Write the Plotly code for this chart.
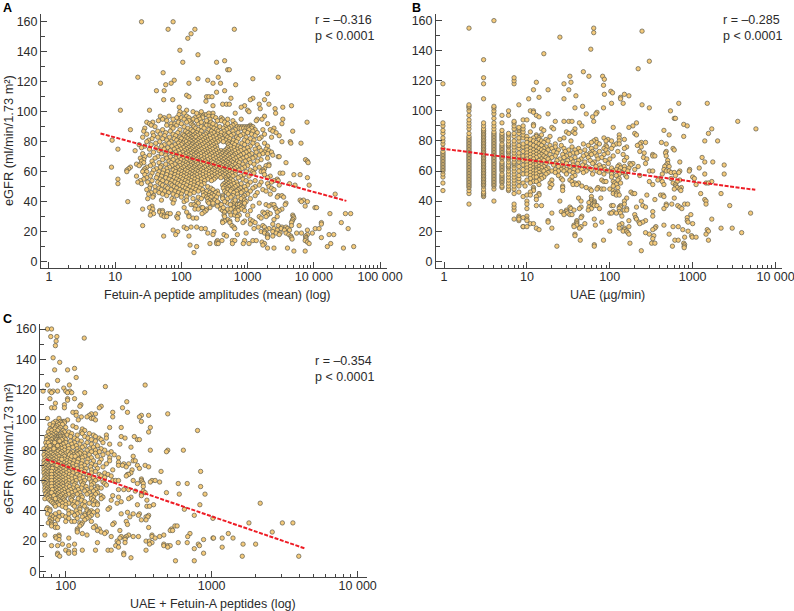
import plotly.graph_objects as go

# ---------- Panel A: eGFR level -> Fetuin-A peptide amplitudes ----------
a_upper = {160:[25,75],155:[63,160,630],152:[140],149:[125],141:[95],138:[178],134:[450],133:[105,340],128:[500,530],126:[53],
123:[22,360,2900],122:[178,1200],121:[78,250],119:[6,70,130,300,390],118:[58,660],114:[42,55,450],113:[340],112:[2000],111:[120],
110:[130,240,260,290],109:[560,1200],108:[54,74,1100,1800],107:[235],105:[420,480,530,1500,2100],104:[300,900,4600],103:[93,800,3400],
102:[1550,2600],101:[12,33,120,1000],100:[95,1050],99:[300,650,2650],98:[92,190,220,240],97:[48,65,180,210,1800],96:[55,160,400],
95:[52,92,150,420,1400,1650,3400],94:[60,400,600,1350],93:[30,37,140,7900],92:[33,70,80,140,180,230,250,650,2000,3300]}
a_core = {91:[35,60,85,150,240,270,330,470,600,1100],
90:[40,70,110,155,200,290,380,560,700,760,830,900,980,1050,1130,1200],
89:[28,75,125,165,220,310,430,520,740,800,870,950,1020,1150,2500],
88:[17,52,95,140,180,260,340,480,650,1050,1300,1700,2200],
87:[27,44,68,115,150,200,285,360,440,600,900,1200,2400,4800],
86:[37,58,88,125,170,240,310,400,520,720,1000,1400,2700],
85:[30,48,75,105,135,160,190,230,280,350,450,610,850,1150,1800],
84:[38,56,82,110,128,150,175,215,265,330,390,470,560,780,1300,3000],
83:[26,44,66,95,118,140,165,200,240,300,370,500,680,950,1600,2300],
82:[36,52,78,100,125,145,185,225,275,345,420,540,720,1100,1500],
81:[9,32,60,85,112,135,155,175,210,250,310,380,470,610,890,1250],
80:[30,47,70,95,118,142,165,195,235,290,355,430,520,680,1000,3300,4400],
79:[41,65,90,105,130,150,180,220,270,330,500,590,820,1200,1800,4500,6400],
78:[23,35,55,80,100,122,145,170,205,250,305,520,640,900,1400],
77:[28,50,72,92,115,138,160,190,235,285,340,550,720,1100,2000],
76:[25,42,62,85,108,128,150,178,215,265,320,500,620,780,1000,1500],
75:[11,33,55,78,98,120,142,168,200,245,295,350,480,560,690,880,1300,1900],
74:[20,46,68,90,112,135,158,185,225,270,330,400,450,520,640,790,1050,1600,2100],
73:[38,60,82,105,125,148,172,210,250,305,370,430,490,580,720,950,1350,1800,2300],
72:[26,50,74,95,118,140,165,195,235,285,345,410,470,550,660,860,1150,1700,2000],
71:[33,58,85,108,130,155,180,220,265,320,385,450,520,620,780,1050,1500,2400],
70:[28,44,68,92,115,138,165,200,245,300,360,425,495,590,720,960,1300,2900,3000],
69:[24,40,60,82,105,128,150,178,218,270,330,395,460,540,660,850,1200,2000],
68:[27,52,75,98,120,145,170,205,250,305,370,435,510,610,770,1050,1600,7500],
67:[25,36,65,88,110,135,160,190,230,285,345,410,480,570,700,920,1400,8000],
66:[27,46,70,95,118,142,168,200,245,300,365,430,505,600,750,1100,3800,8200],
65:[21,24,38,58,80,105,125,150,178,215,265,325,390,460,540,650,850,1250,2100],
64:[23,34,50,72,95,115,138,162,195,240,295,355,420,490,580,720,1000,1900,2100],
63:[8.8,17,30,48,66,88,108,130,155,185,225,275,335,400,470,550,680,900,1500],
62:[16,28,42,60,80,100,122,145,172,210,255,310,375,445,520,630,820,1300,1800],
61:[15,27,38,54,75,95,115,138,165,198,240,295,355,420,495,590,740,1100,1700],
60:[15,26,30,46,62,82,102,125,148,178,215,265,320,385,455,540,660,950,1200,1600,1750],
59:[36,52,70,90,110,135,160,190,235,285,345,410,480,580,1250,3100,3400],
58:[28,44,60,80,100,120,145,172,210,260,315,380,450,530,650,880,1800,5000,6200],
57:[21,34,50,68,88,108,130,155,190,235,290,350,420,500,600,780,1050,2200],
56:[30,42,58,78,98,120,145,175,215,265,325,395,470,720,2000,8000],
55:[11,27,48,65,85,105,130,160,200,250,310,480,560,850,2800],
54:[24,36,52,72,92,115,140,175,225,285,500,600,950,1300,2500,2900],
53:[22,31,44,60,80,100,125,155,195,470,540,680,1100,1600,2300],
52:[11,25,48,68,88,110,140,180,220,440,510,620,800,2000,4300],
51:[34,52,72,95,120,155,200,420,480,560,700,1000,1500,3000,5200,8500],
50:[40,58,78,105,135,170,250,450,520,650,900,1300,2100],
49:[33,46,62,85,115,150,190,280,430,490,600,780,1200,2300],
48:[30,50,70,95,125,165,210,300,500,570,720,950,1700,2500],
47:[40,56,80,105,140,180,240,350,450,550,680,850,1100,1900],
46:[35,46,64,90,120,155,215,270,330,480,620,800,1400],
45:[32,52,75,100,135,230,290,360,510,700,1000,2200,21000],
44:[38,60,85,215,260,310,420,600,900,1300,2900,3300]}
a_lower = {43:[37,100,240,280,340,720,2800,3500],42:[31,72,150,250,500,1100],41:[50,78,270,6200,7000],
40:[15.5,110,170,290,600,650,800,6500,8000],39:[180,370,490,640,780,1500,3800],38:[140,155,300,700,750,850,1900,2300,2500,3700],
37:[36,165,350,610,800,880,1200,2100,7400],36:[33,110,200,210,270,620,720,840,2600,10400,11000],35:[26,37,160,180,240,390,680,800,2700,3300],
34:[47,52,235,420,500,900,3000],33:[35,47,52,220,450,540,1700,2000,2800],32:[38,62,68,90,205,1800,2200,17500,30000,36000],
31:[34,50,55,130,440,560,640,1000,2000,4800],30:[55,60,85,130,1500,1900,2800,4900],29:[88,150,170,1600,5000],28:[500,1100,2500,4800],
27:[420,450,540,900,1200,4700],26:[420,540,850,1300,4600,13000,26000],25:[1100,2400,13000],24:[26,580,1700,2900,4600,6000],
23:[110,140,170,620,1450,1800,3300,3800],22:[120,200,230,640,1250,2100,2500,3200,4000,10500,12000,33000],21:[75,1900,2800,3600,4300,8000],
20:[88,310,1600,1800,2400],19:[250,950,1800,2700,3100,3800,5500,6500,9500],18:[82,300,440,700,2000,3000,4200,8000,17000,20000],
17:[54,130,480,2000,2400,4500,7500],16:[2000,4600,7600,13000],15:[4700,7600],14:[350,410,590,640,900,1200,1350,7400],13:[340,1650,8000],
12:[270,340,360,590,860,1050,1800,8500,18000],11:[135,1700],10:[170,16000,40000],9:[2000,2500,4000,28000],7:[5000,7400],6:[155]}
a_extra = {100:[150,200],99:[110,170,260],97:[120,260,300],96:[85,100,130,210,330],95:[75,110,190,270,500,800],94:[45,130,170,240,350],
93:[90,120,200,280,450],92:[100,300,500],43:[120,180,420,560,850],42:[200,420,800],41:[120,320,650,900],40:[250,350,450,950],
39:[75,260,300,900],38:[400,550],36:[430],35:[500,560],34:[650,720,1100],33:[120,650],31:[750],30:[450,700],28:[700]}
a_fit_x = [6, 31000]
a_fit_y = [85.5, 40.5]

# ---------- Panel B: stacked columns at low UAE, then eGFR level -> UAE ----------
b_columns = {
0.97:[47,52,56,58,60,61,62,63,64,65,66,67,68,69,70,71,72,73,75,78,80,82,85,87,90,92,118],
2:[38,45,47,49,50,51,52,53,54,55,56,57,58,59,60,61,62,63,64,65,66,67,68,69,70,71,72,73,74,75,76,77,78,79,80,81,82,83,85,88,90,92,94,97,100,102,103,104,155],
3:[43,44,45,46,48,50,51,52,53,54,55,56,57,58,59,60,61,62,63,64,65,66,67,68,69,70,71,72,73,74,75,76,77,78,79,80,81,82,83,84,85,86,87,88,90,92,108,118,122,134],
4:[40,48,50,51,52,53,54,55,56,57,58,59,60,61,62,63,64,65,66,67,68,69,70,71,72,73,74,75,76,77,78,79,80,81,82,83,84,85,86,88,90,92,95,98,100,102,103,160],
5:[49,50,52,53,54,55,56,57,58,60,61,62,63,64,65,66,68,69,70,71,72,73,74,75,76,77,78,80,81,82,83,84,85,87,92,97],
6:[47,48,50,52,54,56,58,60,62,63,64,66,68,69,70,72,73,74,76,77,78,80,82,84,85,97,100],
7:[28,34,36,38,45,48,50,52,54,56,58,60,62,64,65,66,68,70,72,74,76,78,80,83,85,88,90,92,93,118,120,122],
8:[27,30,46,50,53,55,57,60,63,66,68,70,72,75,77,80,82,85,87,88,89,104],
9:[23,43,52,58,61,64,67,70,73,76,78,82,84,86,88,90,94]}
b_upper = {155:[64],153:[245],152:[64],149:[25],141:[59],138:[16],133:[300],128:[220],126:[48],123:[33,56,82],121:[86],119:[13,34],118:[28],
117:[84],114:[12,18,32],113:[103],112:[108],111:[86,150],110:[39,170],109:[14,135],108:[10.5,28,135],105:[105,145,680,1500],104:[245],
103:[47],102:[38,84,300],100:[11,12,540],99:[12,70],98:[18,52,68],97:[13],96:[14,62],95:[600,620],94:[10],93:[22,28,32,35,64,3500],
92:[43,210],91:[12,780],90:[12,46,190,860],89:[20,110,170],88:[15,21,38,1700,5800],87:[16,450],86:[11,30,36],85:[32,38,200,1550],
84:[13,15,130,210,520],83:[10,13,19,780],82:[12,14,28,85,130]}
b_core = {81:[10,11,14,17,25,68,95,150],80:[12,15,18,34,64,90,105,130,1400,2000],79:[10,13,16,60,70,240,270,420],78:[11,14,22,48,75,120,130,230,480],
77:[12,15,19,26,55,90,110,215],76:[10,13,17,22,35,68,92,160,240],75:[11,14,16,20,28,42,60,85,105,150,580],74:[10,12,15,18,24,32,38,50,90,600],
73:[11,13,16,21,29,44,62,75,125,230,480],72:[10,12,14,17,23,36,40,58,66,95,260,470],71:[11,13,15,19,27,33,52,60,85,145,330],
70:[10,12,14,16,22,30,48,70,110,330,350,480],69:[11,13,17,20,28,38,55,80,160,255,1300],68:[10,12,15,18,25,34,45,72,100,280],67:[11,14,16,23,31,42,58,88,150,500],
66:[10,12,13,19,27,36,50,65,700,1400,1750],65:[11,14,17,22,30,41,62,96,175,190,270,500],64:[10,12,13,15,21,26,36,47,75,130,180,480,2400],
63:[11,14,16,24,33,52,68,85,125,150,220,460,520],62:[10,12,13,15,18,28,40,56,78,105,135,170,1200],61:[11,13,14,17,22,26,30,37,46,60,88,120,150,200,450,920],
60:[10,12,13,15,16,20,24,28,33,41,52,70,95,110,130,165,300,330,480,520,700,910],59:[11,14,18,22,36,48,75,140,550,600,680],58:[10,12,13,17,30,62,85,105,130,430,1400,2400],
57:[11,14,15,24,38,120,155,230,620],56:[12,13,16,35,105,160,1000],55:[11,15,26,130,400,550,1050],54:[10,14,20,27,33,80,125,380,700],
53:[12,13,35,85,90,110,300,430,650,1700],52:[11,19,38,42,115,135,580,1450,1550],51:[14,20,36,40,120,330,450,620,1100],50:[9.5,27,46,110,630],
49:[12,19,27,52,72,125,650,730],48:[12,58,70,80,85,100,600,700],47:[12,27,60,110,720],46:[11,115,125,180],45:[14,110,120,190,200,1250,2200],
44:[10,11,14,120,130,280,410,440]}
b_lower = {43:[13,60,450],42:[42,78,160,600],41:[13,60,350,1400],40:[10,25,45,60,65,150,240,1450],39:[56,65],38:[10,62,65,150,480,560,800,870,1450],
37:[13,15,65,70,105,110,135,250,480,660,2800],36:[33,45,56,130,135,210,270,700],35:[10,34,43,60,75,130,160,450,740],34:[30,37,55,150,160],
33:[26,30,110,130,330],32:[20,28,31,100,105,120,135,5000],31:[28,33,35,200,950],30:[10,46,140,330],29:[8,9,45,205,860],28:[8,10,65,210,1700],
27:[10,18,40,170,270,860],26:[18,40,80,225,250,880],25:[11,12,40,50,140,230,1000],24:[37,40,67,130,450],23:[9,10,37,45,170,360,580,670],
22:[13,20,43,130,150,350,2200,3000],21:[14,150,330,760,1500],20:[100,145,160,880,1550],19:[165,270,3900],18:[38,170,300,520,1450],17:[38,340,970],
16:[800,990,1100],15:[330],14:[44,84,610,670,1550],12:[175,320,350,780],11:[65,800],10:[23,65,570,790],9:[790],7:[240]}
b_fit_x = [0.92, 5700]
b_fit_y = [75, 47.5]

# ---------- Panel C: eGFR level -> UAE + Fetuin-A peptides ----------
c_upper = {160:[75,80],155:[79,87],154:[134],152:[86],149:[85],141:[82],138:[91],134:[115],133:[84,103],128:[118],126:[88],
123:[75,106,350],122:[187],121:[97],119:[70,78,82,88,100,107],118:[80,103,110,135],114:[78,103,115],113:[103],112:[262],111:[85],110:[98,127],
109:[125,175],108:[80,84,98,170,245],105:[112,118,210,265],104:[150,160,500],103:[118,145,330,370],102:[128,140,210,320],101:[75,90,150,155],
100:[103,122,160],99:[85,92,96,98,330]}
c_core = {98:[82,88,93,98],97:[78,90,95],96:[82,87,112],95:[85,92,100,118,200,240,380],94:[78,84,90,130],93:[80,88,96,135,800],92:[76,84,98,105,128,370],
91:[80,86,94,110,130,145],90:[77,82,95,102,120,155,190],89:[74,80,96,108,135,160,240,295],88:[76,82,98,115,142,170,190,255],87:[74,80,100,120,150,175,310,320],
86:[78,84,96,108,128,160],85:[73,80,86,92,100,115,140,180],84:[76,82,88,96,110,125,150,200,235],83:[74,80,85,92,104,118,135,165],82:[77,83,90,98,112,130,155,280],
81:[71,76,80,86,94,105,120,145,175],80:[74,78,84,90,98,125,140,160,185,380,500,640],79:[72,76,82,88,94,128,150,170,205,490],78:[74,79,85,92,100,135,160,195],
77:[71,76,82,88,96,128,145,180,215],76:[74,78,84,90,98,120,135,165,290],75:[72,76,80,86,94,104,118,130,150,200,230],74:[74,78,83,90,98,108,122,142,175],
73:[71,75,80,86,93,102,114,130,155,200,290,300],72:[73,78,84,90,97,106,120,140,170,230],71:[71,75,80,86,93,102,112,128,150,190,250,270],70:[73,77,83,89,96,105,118,135,160,230,245,310,350],
69:[71,76,81,87,94,102,112,128,148,180,260,370],68:[73,78,84,90,97,108,120,138,165,320],67:[71,75,80,86,92,100,112,128,150,210,285],66:[73,77,83,89,96,105,118,135,160,450,840],
65:[71,75,81,87,93,101,112,128,150,185,280],64:[73,78,84,90,97,106,120,140,170,195,265,270],63:[72,75,80,86,92,100,110,125,145,175,205,260],62:[73,77,83,89,95,104,116,132,155,185],
61:[71,75,80,86,92,100,110,125,145,168,330],60:[73,78,84,90,96,105,118,135,160,210,220,230,290,330,390,410],59:[71,75,81,87,93,101,112,128,150,180,335,380,440],
58:[73,77,83,89,95,104,116,132,155,185,310,340,590,680],57:[72,76,81,87,93,102,114,130,150,190],56:[73,78,84,90,96,106,120,138,165,340,840],55:[72,75,80,86,92,100,112,128,150,165,175],
54:[74,78,84,90,97,108,122,140,160,230,250,270],53:[72,76,81,87,94,104,116,135,155,300,340],52:[74,78,84,90,98,110,125,145,165,350,490],51:[73,77,82,88,95,105,120,140,160,330,600,900],
50:[75,80,86,92,100,112,128,150,175,210,330],49:[74,78,84,90,98,110,130,155,180,230,280],48:[72,76,82,88,96,108,122,150,175,270],47:[78,84,90,98,110,128,155,205,360],
46:[80,86,92,100,115,135,160,240],45:[82,88,95,105,120,145,165,225,2150],44:[84,90,100,112,130,155,165,310,400,830],43:[85,95,115,135,360,375]}
c_lower = {42:[75,100,125,200],41:[74,78,125,140,195,650],40:[78,105,118,140,150,165],39:[90,110,125,145,155,265],38:[75,85,105,120,135,145,240,290,320],
37:[80,95,115,135,150,165,315,370,760],36:[82,90,100,130,145,275,355,365],35:[78,85,105,120,140,1020],34:[80,88,135,330,355],33:[78,100,110,115,150,260],
32:[76,80,125,130,215,1800,3050,3600],31:[80,85,128,210,265],30:[80,125,160,560,580],29:[85,88,155,370],28:[120,170,530],27:[120,165,235,520,540],
26:[120,175,190,2600],25:[130,185,710,1300],24:[72,90,140,270,390,470],23:[85,90,205,240,260,290,315,390,440,685],22:[86,105,235,255,410,1020,1030,1180,1400],
21:[90,255,880],20:[225,355,375],19:[165,230,255,390,590,680],18:[95,115,375,470,810,1640,2000],17:[80,88,105,220,470,500,520,825],16:[230,500,1180],15:[760],
14:[100,115,130,160,195,205,355],13:[105],12:[88,105,115,250,880],11:[88,250],10:[91,1620,3950],9:[280],7:[565,760]}
c_extra = {90:[88,91],89:[86,89,92],88:[86,88,92],87:[87,90,94],86:[89,91],85:[76,84],83:[78,88],81:[83],79:[104,112,120],78:[108,118,125],
77:[106,114,120],76:[110,116],74:[94],72:[80],70:[87],68:[81],66:[80],64:[80],62:[80],60:[80],58:[80],56:[80],54:[81],52:[80],50:[83],48:[85]}
c_fit_x = [73, 4400]
c_fit_y = [74, 15]

y_major = [0,20,40,60,80,100,120,140,160]
y_minor = [10,30,50,70,90,110,130,150]
a_ticks, a_labels = [1,10,100,1000,10000,100000], ["1","10","100","1000","10 000","100 000"]
b_ticks, b_labels = [1,10,100,1000,10000], ["1","10","100","1000","10 000"]
c_ticks, c_labels = [100,1000,10000], ["100","1000","10 000"]
y_title = "eGFR (ml/min/1.73 m²)"

FONT = "Liberation Sans, Arial, sans-serif"
TXT = "#2b2b2b"
W, H = 794, 611

def flat(*levels):
    xs, ys = [], []
    for d in levels:
        for y, row in d.items():
            xs += row
            ys += [y] * len(row)
    return xs, ys

def flat_cols(cols):
    xs, ys = [], []
    for x, col in cols.items():
        xs += [x] * len(col)
        ys += col
    return xs, ys

def minors(lo, hi):
    out = []
    for e in range(lo, hi):
        out += [m * 10 ** e for m in range(2, 10)]
    return out

fig = go.Figure()
panels = [
    ("x", "y", flat(a_upper, a_core, a_lower, a_extra), a_fit_x, a_fit_y),
    ("x2", "y2", None, b_fit_x, b_fit_y),
    ("x3", "y3", flat(c_upper, c_core, c_lower, c_extra), c_fit_x, c_fit_y),
]
bx1, by1 = flat_cols(b_columns)
bx2, by2 = flat(b_upper, b_core, b_lower)
for xa, ya, pts, fx, fy in panels:
    px, py = pts if pts else (bx1 + bx2, by1 + by2)
    fig.add_trace(go.Scatter(x=px, y=py, xaxis=xa, yaxis=ya, mode="markers", showlegend=False, cliponaxis=False,
                             marker=dict(size=4.4, color="#F5CA7A", line=dict(color="#5c5a4e", width=0.7))))
    fig.add_trace(go.Scatter(x=fx, y=fy, xaxis=xa, yaxis=ya, mode="lines", showlegend=False,
                             line=dict(color="#ee1c25", width=2, dash="4px,1.5px")))

def xax(left, right, lo, hi, ticks, labels, mlo, mhi, yref):
    return dict(type="log", range=[lo, hi], domain=[left / W, right / W], anchor=yref, automargin=False,
                tickmode="array", tickvals=ticks, ticktext=labels, ticks="inside", ticklen=6, tickcolor="#444",
                ticklabelstandoff=-3, ticklabeloverflow="allow",
                minor=dict(ticks="inside", ticklen=3, tickcolor="#444", tickmode="array", tickvals=minors(mlo, mhi)),
                showline=True, linecolor="#444", linewidth=1, showgrid=False, zeroline=False,
                tickfont=dict(size=12.5, color=TXT, family=FONT))

def yax(bottom, top, lo, hi, xref):
    return dict(range=[lo, hi], domain=[1 - bottom / H, 1 - top / H], anchor=xref, automargin=False,
                tickmode="array", tickvals=y_major, ticks="inside", ticklen=6, tickcolor="#444",
                minor=dict(ticks="inside", ticklen=4, tickcolor="#444", tickmode="array", tickvals=y_minor),
                showline=True, linecolor="#444", linewidth=1, showgrid=False, zeroline=False,
                tickfont=dict(size=12.5, color=TXT, family=FONT))

xa1 = xax(41, 387, -0.12, 5.105, a_ticks, a_labels, 0, 5, "y")
xa2 = xax(436, 782, -0.097, 4.078, b_ticks, b_labels, 0, 4, "y2")
xa3 = xax(40, 367, 1.824, 4.064, c_ticks, c_labels, 1, 4, "y3")
ya1 = yax(268, 14, -4.3, 165.2, "x")
ya2 = yax(268, 14, -4.5, 164.4, "x2")
ya3 = yax(577, 324, -3.7, 163.3, "x3")

def note(x, y, text, size=12.5, bold=False, anchor="left", angle=0):
    return dict(x=x / W, y=1 - y / H, xref="paper", yref="paper", text=f"<b>{text}</b>" if bold else text, showarrow=False,
                xanchor=anchor, yanchor="middle", textangle=angle,
                font=dict(size=size, color=TXT if not bold else "#000", family=FONT))

notes = [note(313, 20, "r = –0.316"), note(313, 36, "p < 0.0001"),
         note(721, 20, "r = –0.285"), note(721, 36, "p < 0.0001"),
         note(313, 361, "r = –0.354"), note(313, 377, "p < 0.0001"),
         note(1, 8, "A", 12.5, True), note(410, 8, "B", 12.5, True), note(1, 319, "C", 12.5, True),
         note(217, 295, "Fetuin-A peptide amplitudes (mean) (log)", anchor="center"),
         note(607, 295, "UAE (µg/min)", anchor="center"),
         note(213, 604, "UAE + Fetuin-A peptides (log)", anchor="center"),
         note(8, 141, y_title, 12.8, anchor="center", angle=-90),
         note(8, 449, y_title, 12.8, anchor="center", angle=-90)]

fig.update_layout(width=W, height=H, margin=dict(l=0, r=0, t=0, b=0), plot_bgcolor="white", paper_bgcolor="white",
                  xaxis=xa1, yaxis=ya1, xaxis2=xa2, yaxis2=ya2, xaxis3=xa3, yaxis3=ya3, annotations=notes, showlegend=False)
fig.write_html("out.html", config={"displayModeBar": False},
               post_script="document.body.style.margin='0';document.body.style.overflow='hidden';")
